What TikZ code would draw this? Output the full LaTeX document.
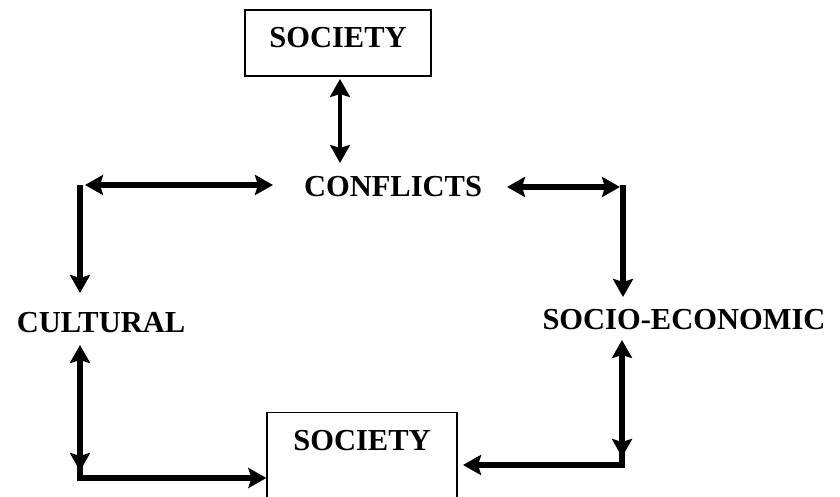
\documentclass[tikz,border=0pt]{standalone}
\usepackage{fontspec}
\setmainfont{Liberation Serif}
\usetikzlibrary{arrows.meta}
\begin{document}
\begin{tikzpicture}[x=1pt,y=1pt,
  lbl/.style={font=\fontsize{30.5}{32}\selectfont\bfseries, inner sep=0pt},
  boxnode/.style={draw, line width=1.2pt, font=\fontsize{30.5}{32}\selectfont\bfseries},
  conn/.style={line width=6pt, line join=miter, -{Stealth[length=18pt,width=20pt,inset=3pt]}},
  dconn/.style={line width=6pt, {Stealth[length=18pt,width=20pt,inset=3pt]}-{Stealth[length=18pt,width=20pt,inset=3pt]}},
  thin dconn/.style={dconn, line width=4.5pt}]
\useasboundingbox (0,0) rectangle (840,497);
\clip (0,0) rectangle (840,497);
\fill[white] (0,0) rectangle (840,497);
% nodes
\node[boxnode, minimum width=186pt, minimum height=66pt, text height=20pt, text depth=10pt] (top) at (338,454) {SOCIETY};
\node[lbl] (conf) at (393,310) {CONFLICTS};
\node[lbl] (cult) at (101,174) {CULTURAL};
\node[lbl] (socio) at (684,177) {SOCIO-ECONOMIC};
\node[boxnode, anchor=north, minimum width=190pt, text height=24pt, text depth=70pt, inner ysep=14pt] (bot) at (362,85) {SOCIETY};
% coordinates
\coordinate (t1) at (340,418);
\coordinate (t2) at (340,334);
\coordinate (lh1) at (85,312);
\coordinate (lh2) at (273,312);
\coordinate (lv1) at (80,312);
\coordinate (lv2) at (80,204);
\coordinate (ll1) at (80,152);
\coordinate (ll2) at (80,26);
\coordinate (lc) at (80,34);
\coordinate (lb) at (bot.west |- 0,19);
\coordinate (rh1) at (507,310);
\coordinate (rh2) at (620,310);
\coordinate (rv1) at (623,312);
\coordinate (rv2) at (623,200);
\coordinate (rl1) at (622,157);
\coordinate (rl2) at (622,40);
\coordinate (rc) at (622,45);
\coordinate (rb) at (463,32);
% connectors
\draw[thin dconn] (t1) -- (t2);
\draw[dconn] (lh1) -- (lh2);
\draw[conn] (lv1) -- (lv2);
\draw[dconn] (ll1) -- (ll2);
\draw[conn] (lc) |- (lb);
\draw[dconn] (rh1) -- (rh2);
\draw[conn] (rv1) -- (rv2);
\draw[dconn] (rl1) -- (rl2);
\draw[conn] (rc) |- (rb);
\end{tikzpicture}
\end{document}
